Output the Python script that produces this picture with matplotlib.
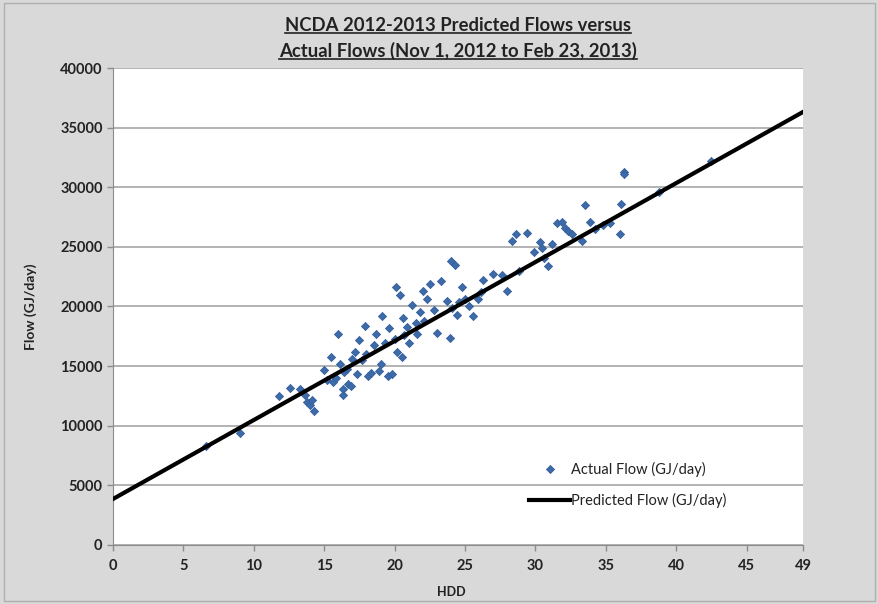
import matplotlib.pyplot as plt
import matplotlib.patches as mpatches
from matplotlib.lines import Line2D
import numpy as np

# HDD vs actual flow (GJ/day)
hdd = [6.6, 9.0, 11.8, 12.6, 13.3, 13.6, 13.8, 14.0, 14.3, 14.1,
       15.0, 15.2, 15.5, 15.6, 15.8, 16.0, 16.1, 16.3, 16.3, 16.4,
       16.6, 16.7, 16.9, 17.0, 17.2, 17.3, 17.5, 17.7, 17.9, 18.0,
       18.1, 18.3, 18.5, 18.7, 18.9, 19.0, 19.1, 19.3, 19.5, 19.6,
       19.8, 20.0, 20.1, 20.2, 20.4, 20.5, 20.6, 20.7, 20.9, 21.0,
       21.2, 21.5, 21.6, 21.8, 22.0, 22.1, 22.3, 22.5, 22.8, 23.0,
       23.3, 23.7, 23.9, 24.0, 24.1, 24.3, 24.4, 24.6, 24.8, 25.0,
       25.3, 25.6, 25.9, 26.1, 26.3, 27.0, 27.6, 28.0, 28.3, 28.6,
       28.8, 29.4, 29.9, 30.3, 30.5, 30.6, 30.9, 31.2, 31.5, 31.9,
       32.1, 32.3, 32.6, 33.3, 33.5, 33.9, 34.2, 34.8, 35.3, 36.0,
       36.1, 36.3, 36.3, 38.8, 42.5]
flow = [8300, 9400, 12500, 13200, 13100, 12600, 12000, 11700, 11200, 12200,
        14700, 13800, 15800, 13700, 14000, 17700, 15200, 12600, 13100, 14500,
        14800, 13500, 13300, 15600, 16200, 14300, 17200, 15500, 18400, 16000,
        14200, 14400, 16800, 17700, 14600, 15200, 19200, 16900, 14200, 18200,
        14300, 17300, 21600, 16200, 21000, 15800, 19000, 17600, 18300, 16900,
        20100, 18600, 17700, 19500, 21300, 18800, 20600, 21900, 19700, 17800,
        22100, 20500, 17400, 23800, 19900, 23500, 19300, 20400, 21600, 20600,
        20000, 19200, 20600, 21200, 22200, 22700, 22600, 21300, 25500, 26100,
        23000, 26200, 24600, 25400, 24900, 24100, 23400, 25200, 27000, 27100,
        26600, 26300, 26100, 25500, 28500, 27100, 26500, 26800, 27000, 26100,
        28600, 31300, 31100, 29600, 32200]

# predicted flow line: intercept + slope * HDD
intercept = 3860
slope = 662.3
line_x = [0, 49]

x_ticks = [0, 5, 10, 15, 20, 25, 30, 35, 40, 45, 49]
y_ticks = list(range(0, 40001, 5000))

plt.rcParams['font.family'] = ['Lato', 'DejaVu Sans']

fig = plt.figure(figsize=(8.79, 6.04), dpi=100, facecolor='#d9d9d9')
ax = fig.add_axes([0.1286, 0.0977, 0.9135 - 0.1286, 0.8874 - 0.0977])
ax.set_facecolor('white')

fig.patches.append(mpatches.Rectangle((0.004, 0.005), 0.992, 0.99, transform=fig.transFigure,
                                      fill=False, edgecolor='#b0b0b0', linewidth=1))

ax.scatter(hdd, flow, marker='D', s=17, color='#3d6aa8', edgecolors='#34609c',
           linewidths=0.6, zorder=3, label='Actual Flow (GJ/day)')
line_y = [intercept + slope * v for v in line_x]
ax.plot(line_x, line_y, color='black', linewidth=3, zorder=4, label='Predicted Flow (GJ/day)')

ax.set_xlim(0, 49)
ax.set_ylim(0, 40000)
ax.set_xticks(x_ticks)
ax.set_yticks(y_ticks)
ax.yaxis.grid(True, color='#a6a6a6', linewidth=1.2)
ax.set_axisbelow(True)
for s in ['top', 'right']:
    ax.spines[s].set_visible(False)
for s in ['left', 'bottom']:
    ax.spines[s].set_color('#8c8c8c')
ax.tick_params(axis='both', direction='out', length=4, color='#8c8c8c',
               labelsize=10.5, labelcolor='#222222', width=1)
ax.tick_params(axis='x', pad=6)
for lab in ax.get_xticklabels() + ax.get_yticklabels():
    lab.set_fontweight('bold')

ax.set_xlabel('HDD', fontsize=9, fontweight='bold', color='#222222')
ax.set_ylabel('Flow (GJ/day)', fontsize=10, fontweight='bold', color='#222222')
ax.yaxis.set_label_coords(-0.11, 0.5)
ax.xaxis.set_label_coords(0.49, -0.085)

leg = ax.legend(loc='lower right', bbox_to_anchor=(0.908, 0.05), frameon=False,
                fontsize=10.5, handlelength=2.8, handletextpad=0.05, labelspacing=1.1,
                scatteryoffsets=[0.5])
for t in leg.get_texts():
    t.set_color('#222222')

# title with underline
title_lines = ['NCDA 2012-2013 Predicted Flows versus',
               'Actual Flows (Nov 1, 2012 to Feb 23, 2013)']
title_y = [0.957, 0.915]
texts = []
for txt, yy in zip(title_lines, title_y):
    texts.append(fig.text(0.521, yy, txt, ha='center', va='center',
                          fontsize=13.3, fontweight='bold', color='#222222'))
fig.canvas.draw()
r = fig.canvas.get_renderer()
inv = fig.transFigure.inverted()
for t in texts:
    bb = t.get_window_extent(renderer=r)
    (x0, y0), (x1, y1) = inv.transform([(bb.x0, bb.y0), (bb.x1, bb.y1)])
    fig.add_artist(Line2D([x0, x1], [y0 + 0.002, y0 + 0.002], transform=fig.transFigure,
                          color='#222222', linewidth=1.2))

fig.savefig('out.png', dpi=100, facecolor=fig.get_facecolor())
